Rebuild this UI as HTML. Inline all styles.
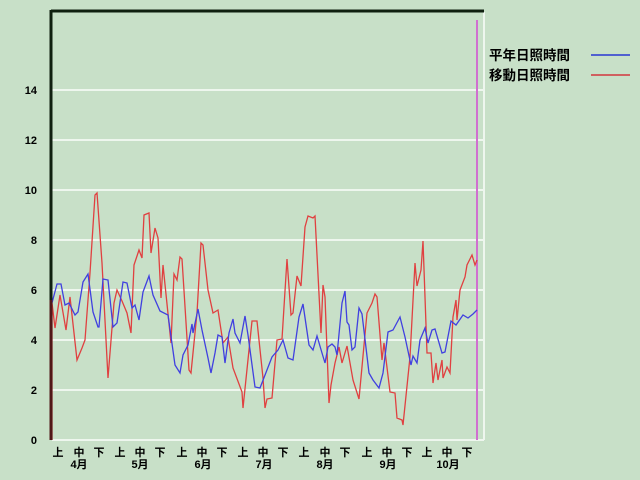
<!DOCTYPE html>
<html><head><meta charset="utf-8"><style>
body{margin:0;width:640px;height:480px;background:#c8e0c8;overflow:hidden}
svg{display:block}
text{font-family:"Liberation Sans","Noto Sans CJK JP",sans-serif;font-size:11px;font-weight:bold;fill:#000}
.lg{font-size:13.5px}
</style></head><body>
<svg width="640" height="480" viewBox="0 0 640 480">
<rect width="640" height="480" fill="#c8e0c8"/>
<g stroke="#eef6ee" stroke-width="2">
<line x1="52" y1="90" x2="484" y2="90"/><line x1="52" y1="140" x2="484" y2="140"/><line x1="52" y1="190" x2="484" y2="190"/><line x1="52" y1="240" x2="484" y2="240"/><line x1="52" y1="290" x2="484" y2="290"/><line x1="52" y1="340" x2="484" y2="340"/><line x1="52" y1="390" x2="484" y2="390"/><line x1="52" y1="440" x2="484" y2="440"/><line x1="484" y1="12" x2="484" y2="440"/>
</g>
<line x1="477" y1="20" x2="477" y2="440" stroke="#d070d0" stroke-width="2"/>
<polyline fill="none" stroke="#e04040" stroke-width="1.3" points="52,440 52,303 55,328 60,295 66,330 70,297 77,360 82,348 85,340 90,273 95,195 97,193 102,263 108,378 114,303 117,290 122,301 127,313 131,333 134,265 139,250 142,258 144,215 149,213 151,253 155,228 158,238 161,298 163,265 171,343 174,274 177,280 180,257 182,259 189,370 191,373 197,313 201,243 203,245 208,290 213,313 218,310 223,343 228,337 233,368 242,392 243,408 252,321 257,321 263,378 265,408 267,399 272,398 277,340 282,339 287,259 291,315 293,313 297,276 301,286 305,227 308,216 313,218 315,216 321,333 323,285 325,297 329,403 331,385 335,363 339,347 342,363 347,346 353,380 359,399 367,313 372,303 375,294 377,297 382,360 384,343 390,392 395,393 397,418 402,420 403,425 410,357 415,263 417,286 421,270 423,241 427,353 431,353 433,383 436,363 438,380 442,360 443,378 447,367 450,373 453,317 456,300 457,320 460,290 465,277 467,265 472,255 475,265 477,260"/>
<polyline fill="none" stroke="#4040e0" stroke-width="1.3" points="52,303 57,284 61,284 65,305 69,303 75,315 78,312 83,282 88,274 93,312 98,327 99,327 103,279 108,280 113,327 117,323 123,282 127,283 132,308 135,305 139,320 143,292 149,276 153,295 160,311 168,315 175,365 180,373 183,355 188,345 192,324 193,333 198,309 202,330 208,358 211,373 215,353 218,335 222,337 225,363 229,333 233,319 235,333 240,343 245,316 248,335 255,387 260,388 272,357 278,350 283,340 288,358 293,360 299,317 303,304 309,345 313,350 317,336 322,353 325,363 328,347 332,344 335,347 337,355 342,303 345,291 347,322 349,325 352,350 355,347 359,308 362,314 369,373 373,380 379,388 383,373 388,332 393,330 400,317 405,337 411,365 413,356 417,363 420,340 425,328 428,343 432,330 435,329 442,353 445,352 451,321 456,325 463,315 468,318 473,314 477,310"/>
<line x1="51" y1="11" x2="484" y2="11" stroke="#102010" stroke-width="3"/>
<line x1="51" y1="10" x2="51" y2="300" stroke="#102010" stroke-width="3"/>
<line x1="51" y1="300" x2="51" y2="440" stroke="#501818" stroke-width="3"/>
<g text-anchor="end">
<text x="37" y="444">0</text><text x="37" y="394">2</text><text x="37" y="344">4</text><text x="37" y="294">6</text><text x="37" y="244">8</text><text x="37" y="194">10</text><text x="37" y="144">12</text><text x="37" y="94">14</text>
</g>
<g text-anchor="middle" style="font-size:9px">
<text x="58" y="456">上</text><text x="79" y="456">中</text><text x="99" y="456">下</text>
<text x="120" y="456">上</text><text x="140" y="456">中</text><text x="160" y="456">下</text>
<text x="182" y="456">上</text><text x="202" y="456">中</text><text x="222" y="456">下</text>
<text x="243" y="456">上</text><text x="263" y="456">中</text><text x="283" y="456">下</text>
<text x="304" y="456">上</text><text x="325" y="456">中</text><text x="345" y="456">下</text>
<text x="367" y="456">上</text><text x="387" y="456">中</text><text x="407" y="456">下</text>
<text x="427" y="456">上</text><text x="447" y="456">中</text><text x="467" y="456">下</text>
<text x="79" y="468">4月</text><text x="140" y="468">5月</text><text x="203" y="468">6月</text><text x="264" y="468">7月</text><text x="325" y="468">8月</text><text x="388" y="468">9月</text><text x="448" y="468">10月</text>
</g>
<text class="lg" x="489" y="60">平年日照時間</text>
<text class="lg" x="489" y="80">移動日照時間</text>
<line x1="591" y1="55" x2="630" y2="55" stroke="#5060d0" stroke-width="2"/>
<line x1="591" y1="75" x2="630" y2="75" stroke="#d06060" stroke-width="2"/>
</svg>
</body></html>
